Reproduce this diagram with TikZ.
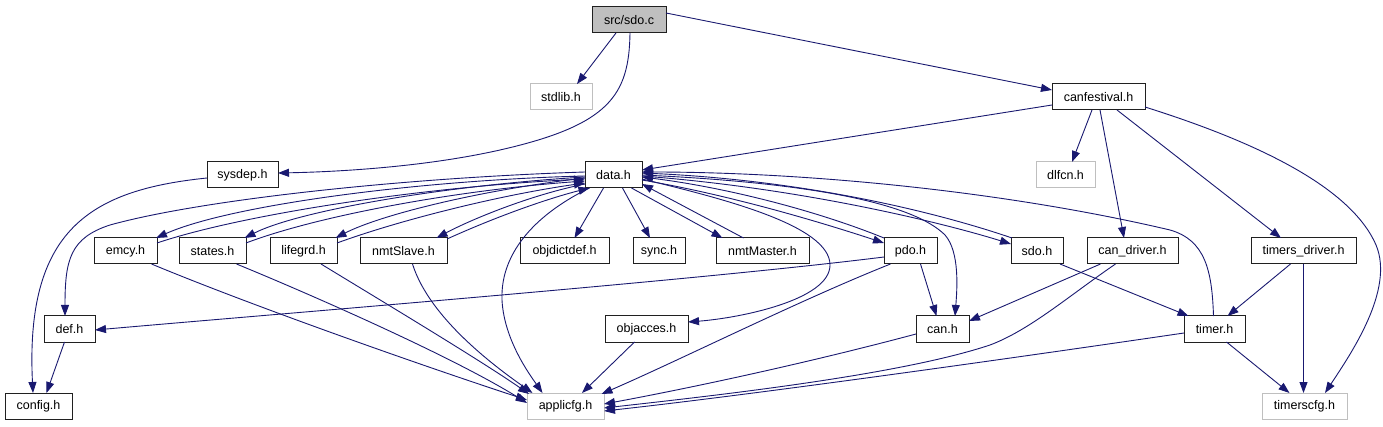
\documentclass[tikz,border=0pt]{standalone}
\usepackage{fontspec}
\setmainfont{Liberation Sans}
\usetikzlibrary{arrows.meta,calc}
\definecolor{edgeblue}{HTML}{191970}
\definecolor{boxgray}{HTML}{BFBFBF}
\definecolor{boxline}{HTML}{202020}
\begin{document}
\begin{tikzpicture}[x=1pt,y=-1pt,
  box/.style={draw=boxline, line width=1pt, minimum height=26pt, inner sep=0pt, fill=white, font=\fontsize{12.5}{14}\selectfont},
  extbox/.style={box, draw=boxgray},
  rootbox/.style={box, fill=boxgray},
  edge/.style={draw=edgeblue, line width=0.9pt, -{Triangle[length=11pt,width=8pt]}}]
\useasboundingbox (0,0) rectangle (1383,427);
\fill[white] (0,0) rectangle (1383,427);
% nodes
\node[rootbox, minimum width=74pt] (sdoc) at (629,20) {src/sdo.c};
\node[extbox, minimum width=62pt] (stdlib) at (561,97) {stdlib.h};
\node[box, minimum width=93pt] (canfest) at (1098.5,97) {canfestival.h};
\node[box, minimum width=71pt] (sysdep) at (242.5,175) {sysdep.h};
\node[box, minimum width=57pt] (data) at (613.5,175) {data.h};
\node[extbox, minimum width=59pt] (dlfcn) at (1065.5,175) {dlfcn.h};
\node[box, minimum width=63pt] (emcy) at (125.5,251) {emcy.h};
\node[box, minimum width=67pt] (states) at (212.5,251) {states.h};
\node[box, minimum width=67pt] (lifegrd) at (303.5,251) {lifegrd.h};
\node[box, minimum width=87pt] (nmtSlave) at (403.5,251) {nmtSlave.h};
\node[box, minimum width=89pt] (objdictdef) at (564.5,251) {objdictdef.h};
\node[box, minimum width=52pt] (sync) at (659,251) {sync.h};
\node[box, minimum width=93pt] (nmtMaster) at (762.5,251) {nmtMaster.h};
\node[box, minimum width=53pt] (pdo) at (910.5,251) {pdo.h};
\node[box, minimum width=52pt] (sdoh) at (1037,251) {sdo.h};
\node[box, minimum width=91pt] (candriver) at (1132.5,251) {can\_driver.h};
\node[box, minimum width=105pt] (timersdriver) at (1303.5,251) {timers\_driver.h};
\node[box, minimum width=51pt] (def) at (69.5,329) {def.h};
\node[box, minimum width=83pt] (objacces) at (646.5,329) {objacces.h};
\node[box, minimum width=53pt] (can) at (942.5,329) {can.h};
\node[box, minimum width=61pt] (timer) at (1214.5,329) {timer.h};
\node[box, minimum width=67pt] (config) at (38.5,406) {config.h};
\node[extbox, minimum width=77pt] (applicfg) at (565.5,406) {applicfg.h};
\node[extbox, minimum width=85pt] (timerscfg) at (1304.5,406) {timerscfg.h};
% edges
\draw[edge] ($(sdoc)+(-13,13)$) -- ($(stdlib)+(16,-13)$);
\draw[edge] ($(sdoc)+(1,13)$) .. controls (629,95) and (610,125) .. (500,150) .. controls (420,168) and (330,172) .. ($(sysdep)+(35.5,-2)$);
\draw[edge] ($(sdoc)+(37,-7)$) -- ($(canfest)+(-46.5,-7)$);
\draw[edge] ($(canfest)+(-46.5,8)$) -- ($(data)+(28.5,-5)$);
\draw[edge] ($(canfest)+(-6.5,13)$) -- ($(dlfcn)+(6.5,-13)$);
\draw[edge] ($(canfest)+(1.5,13)$) -- ($(candriver)+(-8.5,-13)$);
\draw[edge] ($(canfest)+(18.5,13)$) -- ($(timersdriver)+(-22.5,-13)$);
\draw[edge] ($(canfest)+(46.5,10)$) .. controls (1250,140) and (1350,185) .. (1376,245) .. controls (1395,290) and (1350,355) .. ($(timerscfg)+(20.5,-13)$);
\draw[edge] ($(sysdep)+(-35.5,3)$) .. controls (90,190) and (25,230) .. ($(config)+(-5.5,-13)$);
\draw[edge] ($(data)+(-28.5,-3)$) .. controls (400,178) and (200,200) .. (110,225) .. controls (70,238) and (65,260) .. ($(def)+(-4.5,-13)$);
\draw[edge] ($(data)+(-28.5,1)$) .. controls (420,180) and (230,205) .. ($(emcy)+(30.5,-13)$);
\draw[edge] ($(emcy)+(31.5,-8)$) .. controls (240,215) and (420,187) .. ($(data)+(-28.5,4)$);
\draw[edge] ($(data)+(-28.5,2)$) .. controls (450,185) and (300,210) .. ($(states)+(32,-13)$);
\draw[edge] ($(states)+(33.5,-8)$) .. controls (320,215) and (460,190) .. ($(data)+(-28.5,6)$);
\draw[edge] ($(data)+(-28.5,3)$) .. controls (480,190) and (380,215) .. ($(lifegrd)+(32,-13)$);
\draw[edge] ($(lifegrd)+(33.5,-8)$) .. controls (400,220) and (500,195) .. ($(data)+(-28.5,8)$);
\draw[edge] ($(data)+(-28.5,9)$) .. controls (530,195) and (470,220) .. ($(nmtSlave)+(33,-13)$);
\draw[edge] ($(nmtSlave)+(43.5,-12)$) .. controls (500,215) and (550,198) .. ($(data)+(-24,13)$);
\draw[edge] ($(data)+(-10,13)$) -- ($(objdictdef)+(10,-13)$);
\draw[edge] ($(data)+(9,13)$) -- ($(sync)+(-9,-13)$);
\draw[edge] ($(data)+(18,13)$) -- ($(nmtMaster)+(-40,-13)$);
\draw[edge] ($(nmtMaster)+(-19,-13)$) -- ($(data)+(28.5,9)$);
\draw[edge] ($(data)+(28.5,5)$) .. controls (730,195) and (820,222) .. ($(pdo)+(-26.5,-8)$);
\draw[edge] ($(pdo)+(-26.5,-13)$) .. controls (820,212) and (730,188) .. ($(data)+(28.5,2)$);
\draw[edge] ($(data)+(28.5,1)$) .. controls (800,188) and (940,222) .. ($(sdoh)+(-26,-7)$);
\draw[edge] ($(sdoh)+(-25,-13)$) .. controls (930,210) and (800,180) .. ($(data)+(28.5,-2)$);
\draw[edge] ($(data)+(28.5,4)$) .. controls (720,198) and (830,225) .. (830,265) .. controls (830,300) and (740,318) .. ($(objacces)+(41.5,-7)$);
\draw[edge] ($(data)+(28.5,0)$) .. controls (820,183) and (915,205) .. (945,235) .. controls (960,252) and (957,290) .. ($(can)+(12.5,-13)$);
\draw[edge] ($(timer)+(-1,-13)$) .. controls (1212,270) and (1205,240) .. (1170,230) .. controls (1000,190) and (800,172) .. ($(data)+(28.5,-3)$);
\draw[edge] ($(data)+(-24,13)$) .. controls (540,212) and (500,250) .. (502,300) .. controls (504,340) and (530,375) .. ($(applicfg)+(-23,-13)$);
\draw[edge] ($(emcy)+(26,13)$) .. controls (250,305) and (420,365) .. ($(applicfg)+(-38.5,-6)$);
\draw[edge] ($(states)+(24,13)$) .. controls (300,290) and (450,355) .. ($(applicfg)+(-38.5,-3)$);
\draw[edge] ($(lifegrd)+(17.5,13)$) .. controls (380,300) and (480,360) .. ($(applicfg)+(-36.5,-12)$);
\draw[edge] ($(nmtSlave)+(9,13)$) .. controls (430,320) and (500,370) .. ($(applicfg)+(-33,-13)$);
\draw[edge] ($(objacces)+(-12,13)$) -- ($(applicfg)+(16.5,-13)$);
\draw[edge] ($(pdo)+(-20,13)$) .. controls (800,300) and (680,360) .. ($(applicfg)+(36,-12)$);
\draw[edge] ($(can)+(-26.5,5)$) .. controls (800,365) and (680,390) .. ($(applicfg)+(38.5,-2)$);
\draw[edge] ($(candriver)+(-17,13)$) .. controls (1070,295) and (1030,330) .. (990,345) .. controls (900,375) and (720,395) .. ($(applicfg)+(38.5,2)$);
\draw[edge] ($(timer)+(-30.5,4)$) .. controls (1000,360) and (750,395) .. ($(applicfg)+(38.5,5)$);
\draw[edge] ($(pdo)+(-26.5,6)$) .. controls (700,280) and (300,312) .. ($(def)+(25.5,1)$);
\draw[edge] ($(pdo)+(10,13)$) -- ($(can)+(-6,-13)$);
\draw[edge] ($(sdoh)+(23,13)$) -- ($(timer)+(-26,-13)$);
\draw[edge] ($(candriver)+(-32,13)$) -- ($(can)+(26.5,-8)$);
\draw[edge] ($(timersdriver)+(-13,13)$) -- ($(timer)+(13,-13)$);
\draw[edge] ($(timersdriver)+(0,13)$) -- ($(timerscfg)+(-1,-13)$);
\draw[edge] ($(timer)+(12,13)$) -- ($(timerscfg)+(-15,-13)$);
\draw[edge] ($(def)+(-5,13)$) -- ($(config)+(8,-13)$);
\end{tikzpicture}
\end{document}
